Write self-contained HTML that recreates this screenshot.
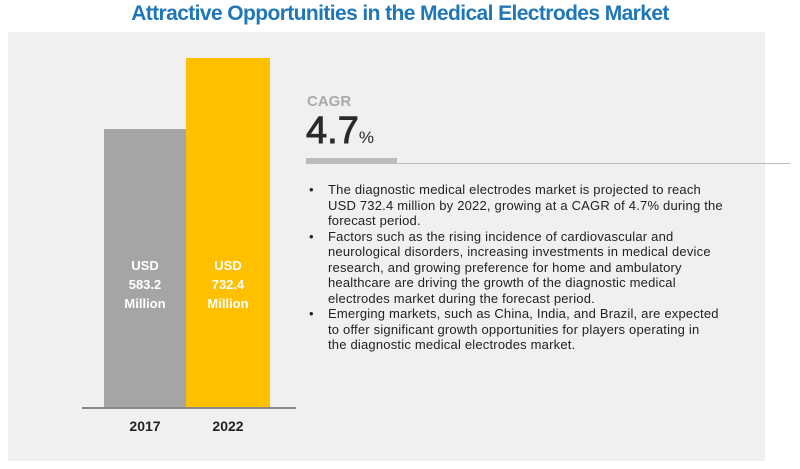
<!DOCTYPE html>
<html><head><style>
body{margin:0;width:800px;height:469px;background:#fff;position:relative;overflow:hidden;font-family:"Liberation Sans",sans-serif}
.a{position:absolute}
.b{position:relative;padding-left:19px;white-space:nowrap}
.b span{position:absolute;left:0}
</style></head><body>
<div class="a" style="left:0;top:2px;width:800px;text-align:center;color:#1f77b8;font-weight:bold;font-size:21px;letter-spacing:-0.6px">Attractive Opportunities in the Medical Electrodes Market</div>
<div class="a" style="left:8px;top:32px;width:757px;height:429px;background:#f0f0f0"></div>
<div class="a" style="left:104px;top:129px;width:82px;height:279px;background:#a5a5a5"></div>
<div class="a" style="left:186px;top:58px;width:84px;height:350px;background:#ffc000"></div>
<div class="a" style="left:82px;top:407px;width:214px;height:2px;background:#888"></div>
<div class="a" style="left:104px;top:256px;width:82px;text-align:center;color:#fff;font-weight:bold;font-size:13px;line-height:19px">USD<br>583.2<br>Million</div>
<div class="a" style="left:186px;top:256px;width:84px;text-align:center;color:#fff;font-weight:bold;font-size:13px;line-height:19px">USD<br>732.4<br>Million</div>
<div class="a" style="left:115px;top:418px;width:60px;text-align:center;font-weight:bold;font-size:14px;color:#222">2017</div>
<div class="a" style="left:198px;top:418px;width:60px;text-align:center;font-weight:bold;font-size:14px;color:#222">2022</div>
<div class="a" style="left:307px;top:93px;color:#aaa;font-weight:bold;font-size:15px">CAGR</div>
<div class="a" style="left:306px;top:111px;color:#2a2a2a;font-size:38px;line-height:40px;-webkit-text-stroke:0.9px #2a2a2a">4.7<span style="font-size:17px;-webkit-text-stroke:0">%</span></div>
<div class="a" style="left:306px;top:158px;width:91px;height:5px;background:#bbb"></div>
<div class="a" style="left:306px;top:163px;width:484px;height:1px;background:#bbb"></div>
<div class="a" style="left:309px;top:182px;font-size:13px;line-height:15.5px;color:#222;letter-spacing:0.2px">
<div class="b"><span>•</span>The diagnostic medical electrodes market is projected to reach<br>USD 732.4 million by 2022, growing at a CAGR of 4.7% during the<br>forecast period.</div>
<div class="b"><span>•</span>Factors such as the rising incidence of cardiovascular and<br>neurological disorders, increasing investments in medical device<br>research, and growing preference for home and ambulatory<br>healthcare are driving the growth of the diagnostic medical<br>electrodes market during the forecast period.</div>
<div class="b"><span>•</span>Emerging markets, such as China, India, and Brazil, are expected<br>to offer significant growth opportunities for players operating in<br>the diagnostic medical electrodes market.</div>
</div>
</body></html>
